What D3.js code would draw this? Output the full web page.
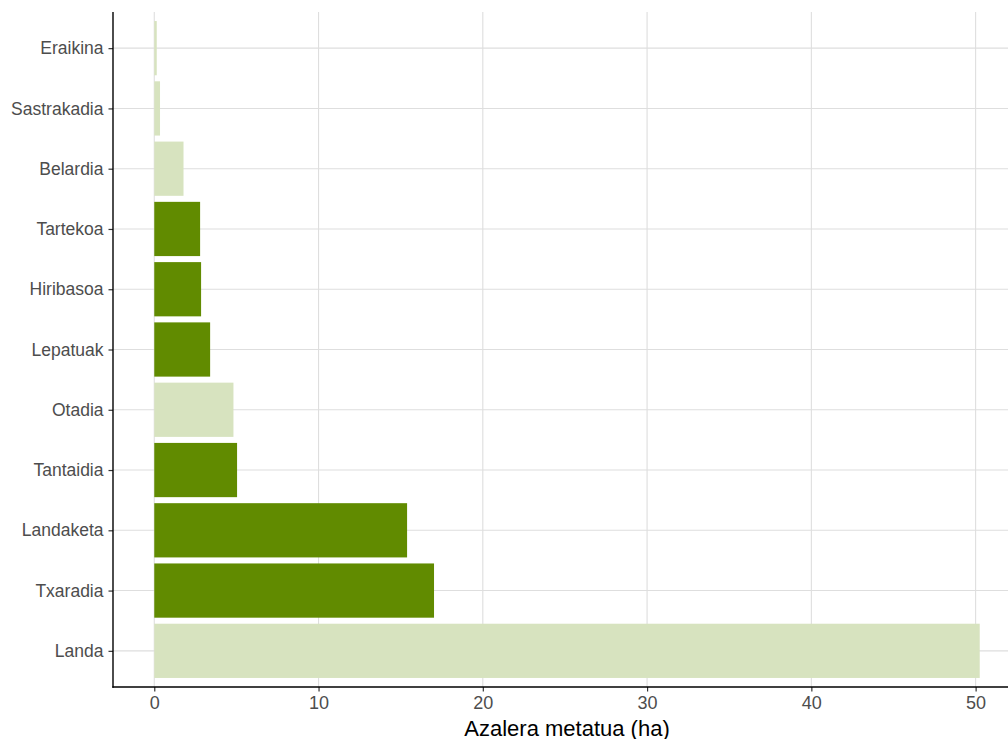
<!DOCTYPE html>
<html><head><meta charset="utf-8">
<script src="https://cdn.jsdelivr.net/npm/d3@7"></script>
<style>html,body{margin:0;padding:0;background:#fff;overflow:hidden}</style>
</head><body>
<svg id="chart" width="1008" height="739"></svg>
<script>
const categories = ["Eraikina","Sastrakadia","Belardia","Tartekoa","Hiribasoa","Lepatuak","Otadia","Tantaidia","Landaketa","Txaradia","Landa"];
const values = [0.15, 0.35, 1.78, 2.79, 2.85, 3.40, 4.82, 5.04, 15.39, 17.03, 50.25];
const groups = ["light","light","light","dark","dark","dark","light","dark","dark","dark","light"];
const xTicks = [0,10,20,30,40,50];
const xTitle = "Azalera metatua (ha)";

const colors = {dark:"#618b00", light:"#d7e3bf"};
const FONT = "Liberation Sans, Arial, sans-serif";
const svg = d3.select("#chart");
const L = 113, R = 1021, T = 12, B = 687;
const maxV = d3.max(values);
const pad = maxV*0.05;
const x = d3.scaleLinear().domain([-pad, maxV+pad]).range([L, R]);
const n = categories.length;
const step = (B - T) / (n - 1 + 1.2);
const yc = d3.scalePoint().domain(categories).range([T + 0.6*step, B - 0.6*step]);
const bh = 0.9*step;

const grid = svg.append("g");
grid.selectAll("line.v").data(xTicks).join("line")
  .attr("x1", d=>x(d)).attr("x2", d=>x(d)).attr("y1", T).attr("y2", B)
  .attr("stroke", "#dedede").attr("stroke-width", 1.1);
grid.selectAll("line.h").data(categories).join("line")
  .attr("x1", L).attr("x2", R).attr("y1", d=>yc(d)).attr("y2", d=>yc(d))
  .attr("stroke", "#dedede").attr("stroke-width", 1.1);

svg.append("g").selectAll("rect").data(categories).join("rect")
  .attr("x", x(0)).attr("y", d=>yc(d)-bh/2)
  .attr("width", (d,i)=>x(values[i])-x(0)).attr("height", bh)
  .attr("fill", (d,i)=>colors[groups[i]]);

const xAxis = svg.append("g").attr("transform", `translate(0,${B})`)
  .call(d3.axisBottom(x).tickValues(xTicks).tickSize(4.5).tickPadding(5).tickSizeOuter(0));
xAxis.select(".domain").remove();
xAxis.selectAll(".tick line").attr("stroke", "#333").attr("stroke-width", 1.2);
xAxis.selectAll(".tick text").attr("fill", "#4d4d4d").attr("font-size", 18).attr("font-family", FONT);

const yAxis = svg.append("g").attr("transform", `translate(${L},0)`)
  .call(d3.axisLeft(yc).tickSize(4.5).tickPadding(5).tickSizeOuter(0));
yAxis.select(".domain").remove();
yAxis.selectAll(".tick line").attr("stroke", "#333").attr("stroke-width", 1.2);
yAxis.selectAll(".tick text").attr("fill", "#4d4d4d").attr("font-size", 17.5).attr("font-family", FONT);

// axis lines (panel border left & bottom)
svg.append("line").attr("x1", L).attr("x2", L).attr("y1", T).attr("y2", B+0.7)
  .attr("stroke", "#000").attr("stroke-width", 1.4);
svg.append("line").attr("x1", L-0.7).attr("x2", R).attr("y1", B).attr("y2", B)
  .attr("stroke", "#000").attr("stroke-width", 1.4);

svg.append("text").attr("x", (L+R)/2).attr("y", 736).attr("text-anchor", "middle")
  .attr("font-size", 22).attr("font-family", FONT).attr("fill", "#000")
  .text(xTitle);
</script>
</body></html>
